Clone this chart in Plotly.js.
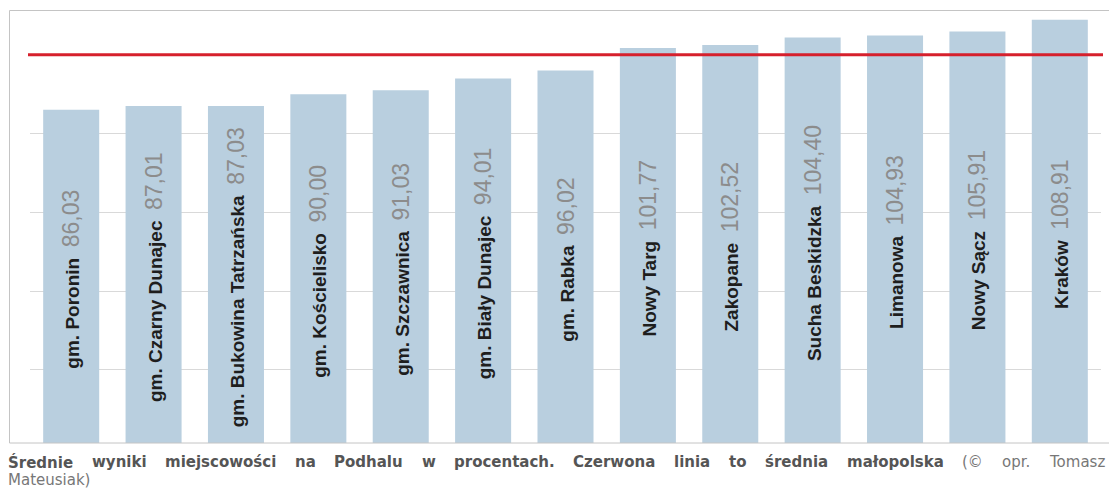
<!DOCTYPE html>
<html>
<head>
<meta charset="utf-8">
<script src="https://cdn.plot.ly/plotly-3.0.1.min.js"></script>
<style>
  html, body { margin: 0; padding: 0; background: #fff; }
  #chart { width: 1109px; height: 499px; }
</style>
</head>
<body>
<div id="chart"></div>
<script>
// ---- data ----
const places = ["gm. Poronin", "gm. Czarny Dunajec", "gm. Bukowina Tatrzańska", "gm. Kościelisko",
  "gm. Szczawnica", "gm. Biały Dunajec", "gm. Rabka", "Nowy Targ", "Zakopane",
  "Sucha Beskidzka", "Limanowa", "Nowy Sącz", "Kraków"];
const scores = [86.03, 87.01, 87.03, 90.00, 91.03, 94.01, 96.02, 101.77, 102.52, 104.40, 104.93, 105.91, 108.91];
const malopolskaAverage = 100;

const captionBold = ["Średnie", "wyniki", "miejscowości", "na", "Podhalu", "w", "procentach.",
  "Czerwona", "linia", "to", "średnia", "małopolska"];
const captionRegular = ["(©", "opr.", "Tomasz"];
const captionLine2 = "Mateusiak)";

// ---- layout helpers (pixel geometry) ----
const W = 1109, H = 499;
const M = { l: 30, r: 8, t: 10, b: 56 };
const PW = W - M.l - M.r, PH = H - M.t - M.b;
const px2x = p => (p - M.l) / PW;
const py2y = p => (H - M.b - p) / PH;

const fmt = v => v.toFixed(2).replace('.', ',');
const barText = places.map((p, i) =>
  '<span style="font-size:19px;font-weight:bold;color:#1e1e1e">' + p + '</span>  ' +
  '<span style="color:#8c8c8c;font-size:23px">' + fmt(scores[i]) + '</span>');

const bars = {
  type: 'bar',
  x: places,
  y: scores,
  marker: { color: '#b9cfdf' },
  text: barText,
  texttemplate: '%{text}',
  textposition: 'inside',
  insidetextanchor: 'middle',
  textangle: -90,
  constraintext: 'none',
  textfont: { family: 'Liberation Sans, Arial, sans-serif', size: 19, color: '#1e1e1e' },
  hoverinfo: 'skip'
};

// justified caption: measure words and distribute the gaps evenly
const capFamily = '"DejaVu Sans", Verdana, sans-serif';
const capSize = 15;
const ctx = document.createElement('canvas').getContext('2d');
const words = captionBold.map(w => ({ w, bold: true })).concat(captionRegular.map(w => ({ w, bold: false })));
words.forEach(o => {
  ctx.font = (o.bold ? 'bold ' : '') + capSize + 'px ' + capFamily;
  o.width = ctx.measureText(o.w).width;
});
const lineStart = 10, lineEnd = 1106;
const totalW = words.reduce((s, o) => s + o.width, 0);
const gap = (lineEnd - lineStart - totalW) / (words.length - 1);
const annotations = [];
let cx = lineStart;
words.forEach(o => {
  annotations.push({
    xref: 'paper', yref: 'paper', x: px2x(cx - 2), y: py2y(462),
    xanchor: 'left', yanchor: 'middle', showarrow: false, borderpad: 0, borderwidth: 0,
    text: o.bold ? '<b>' + o.w + '</b>' : o.w,
    font: { family: capFamily, size: capSize, color: o.bold ? '#555555' : '#777777' }
  });
  cx += o.width + gap;
});
annotations.push({
  xref: 'paper', yref: 'paper', x: px2x(lineStart - 2), y: py2y(480),
  xanchor: 'left', yanchor: 'middle', showarrow: false, borderpad: 0, borderwidth: 0,
  text: captionLine2,
  font: { family: capFamily, size: capSize, color: '#777777' }
});

const layout = {
  width: W, height: H,
  margin: M,
  paper_bgcolor: '#ffffff',
  plot_bgcolor: '#ffffff',
  showlegend: false,
  bargap: 0.32,
  xaxis: { type: 'category', showticklabels: false, showgrid: false, zeroline: false, showline: false, ticks: '', fixedrange: true },
  yaxis: { range: [1.4, 111.4], tick0: 0, dtick: 20, showticklabels: false, showgrid: true,
           gridcolor: '#d9d9d9', gridwidth: 1, zeroline: false, showline: false, ticks: '', fixedrange: true },
  shapes: [
    { type: 'rect', xref: 'paper', yref: 'paper', x0: px2x(9.5), x1: px2x(1112), y0: 0, y1: py2y(10.5),
      line: { color: '#c4c4c4', width: 1 }, fillcolor: 'rgba(0,0,0,0)', layer: 'above' },
    { type: 'line', xref: 'paper', yref: 'y', x0: px2x(28), x1: px2x(1103),
      y0: malopolskaAverage, y1: malopolskaAverage,
      line: { color: '#d6202c', width: 3 }, layer: 'above' }
  ],
  annotations: annotations
};

Plotly.newPlot('chart', [bars], layout, { staticPlot: true, displayModeBar: false });
</script>
</body>
</html>
